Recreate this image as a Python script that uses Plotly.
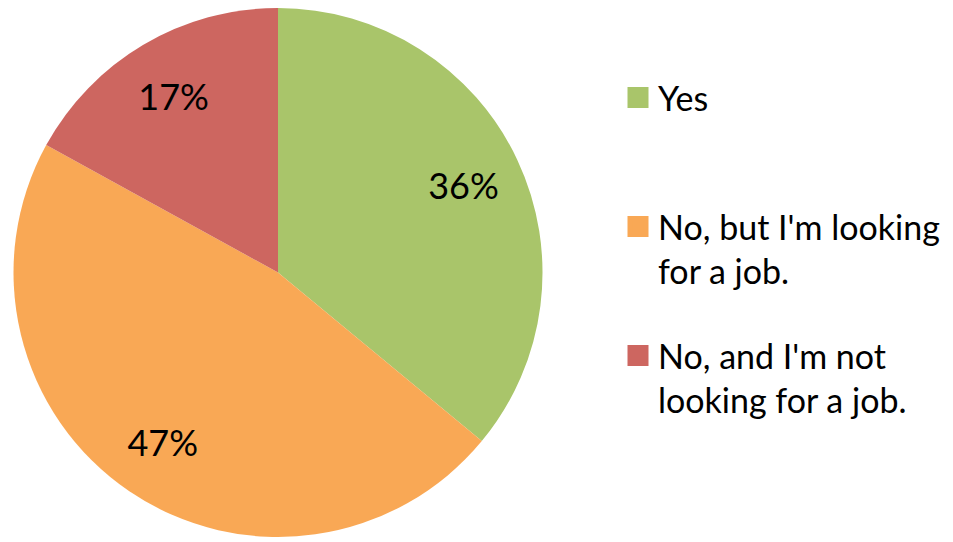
import plotly.graph_objects as go

categories = ["Yes", "No, but I'm looking for a job.", "No, and I'm not looking for a job."]
legend_labels = ["Yes", "No, but I'm looking<br>for a job.", "No, and I'm not<br>looking for a job."]
values = [36, 47, 17]
colors = ["#A9C56A", "#F9A855", "#CD6660"]

FONT = "Lato, Carlito, Calibri, sans-serif"

# page body has an 8px default margin; positions below are in figure pixels
W, H = 953, 542
pie_domain = dict(x=[5 / W, 535 / W], y=[1 - 529 / H, 1.0])

fig = go.Figure()
# solid pie
fig.add_trace(go.Pie(
    labels=categories,
    values=values,
    sort=False,
    direction="clockwise",
    rotation=0,
    marker=dict(colors=colors, line=dict(width=0)),
    textinfo="none",
    showlegend=False,
    domain=pie_domain,
    hoverinfo="label+percent",
))
# transparent ring on top that only carries the percentage labels
fig.add_trace(go.Pie(
    labels=categories,
    values=values,
    sort=False,
    direction="clockwise",
    rotation=0,
    hole=0.55,
    marker=dict(colors=["rgba(0,0,0,0)"] * len(values), line=dict(width=0)),
    texttemplate="%{percent:.0%}",
    textposition="inside",
    insidetextorientation="horizontal",
    textfont=dict(family=FONT, size=36, color="black"),
    showlegend=False,
    domain=pie_domain,
    hoverinfo="skip",
))

legend_names = ["legend", "legend2", "legend3"]
for name, lab, col in zip(legend_names, legend_labels, colors):
    fig.add_trace(go.Scatter(
        x=[None], y=[None], mode="markers", name=lab,
        marker=dict(symbol="square", size=18, color=col, line=dict(color=col, width=5)),
        legend=name, showlegend=True, hoverinfo="skip",
    ))

legend_common = dict(
    font=dict(family=FONT, size=34, color="black"),
    bgcolor="rgba(0,0,0,0)",
    borderwidth=0,
    xanchor="left",
    yanchor="top",
    valign="top",
    x=610 / W,
)
ys = [100, 229, 358]
layout_legends = {}
for name, yc in zip(legend_names, ys):
    layout_legends[name] = dict(legend_common, y=1 - (yc - 39) / H)

fig.update_layout(
    width=W, height=H,
    margin=dict(l=0, r=0, t=0, b=0),
    paper_bgcolor="white",
    plot_bgcolor="white",
    xaxis=dict(visible=False),
    yaxis=dict(visible=False),
    **layout_legends,
)

fig.write_html("out.html")
